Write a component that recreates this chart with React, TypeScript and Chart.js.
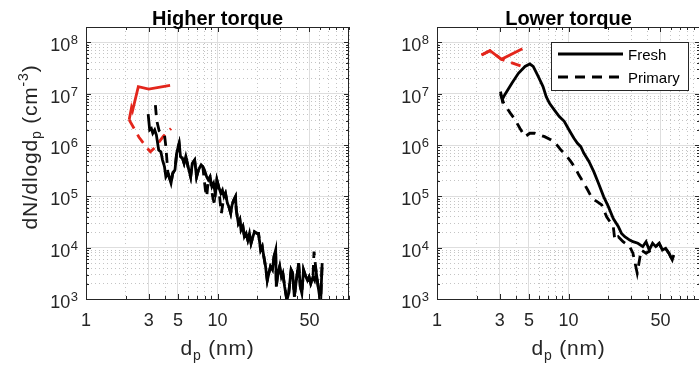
import React, { useEffect, useRef } from "react";
import { Chart, registerables } from "chart.js";

Chart.register(...registerables);

const FONT = '"Liberation Sans", Arial, Helvetica, sans-serif';
const AXIS_COLOR = "#262626";
const RED = "#e3261c";

// ---------- axes ----------
const X_MIN = 1;
const X_MAX = 100;
const Y_MIN = 1e3;
const Y_MAX = 2e8;
const xTickLabels = [1, 3, 5, 10, 50];
const xGridValues = [1, 2, 3, 4, 5, 6, 7, 8, 9, 10, 20, 30, 40, 50, 60, 70, 80, 90, 100];
const yExponents = [3, 4, 5, 6, 7, 8];
const yDecades = [1e3, 1e4, 1e5, 1e6, 1e7, 1e8];
const yMinorMultipliers = [2, 3, 4, 5, 6, 7, 8, 9];

// ---------- Higher torque ----------
const hiFreshD = [2.97, 3.05, 3.14, 3.22, 3.33, 3.43, 3.57, 3.71, 3.82, 3.95, 4.05, 4.19, 4.28, 4.43, 4.56, 4.75, 4.89, 5.03, 5.11, 5.23, 5.42, 5.57, 5.74, 5.97, 6.25, 6.43, 6.70, 6.93, 7.17, 7.51, 7.73, 7.95, 8.28, 8.51, 8.77, 9.07, 9.33, 9.61, 9.89, 10.2, 10.6, 10.9, 11.2, 11.5, 11.9, 12.2, 12.6, 12.9, 13.3, 13.7, 13.9, 14.4, 14.8, 15.1, 15.6, 16.0, 16.5, 17.0, 17.5, 18.0, 18.6, 19.1, 19.9, 20.5, 21.3, 21.9, 22.5, 23.2, 23.9, 24.6, 25.3, 26.2, 26.9, 27.7, 28.0, 28.8, 29.7, 30.6, 31.4, 32.4, 33.7, 34.8, 36.3, 37.3, 38.4, 39.5, 41.4, 42.6, 43.8, 45.1, 47.0, 48.3, 49.7, 51.2, 53.2, 54.8, 56.4, 58.3, 60.8, 62.5];
const hiFreshN = [4.0e6, 1.97e6, 2.1e6, 1.7e6, 1.97e6, 1.57e6, 8.0e5, 7.4e5, 5.1e5, 3.8e5, 2.4e5, 2.8e5, 2.4e5, 1.8e5, 2.8e5, 3.3e5, 6.9e5, 9.3e5, 1.08e6, 6.0e5, 5.5e5, 4.4e5, 6.0e5, 3.8e5, 2.4e5, 4.4e5, 5.1e5, 2.4e5, 3.3e5, 4.1e5, 3.8e5, 3.3e5, 2.4e5, 2.1e5, 2.4e5, 1.55e5, 1.8e5, 1.15e5, 2.1e5, 1.55e5, 1.15e5, 1.33e5, 9.9e4, 1.15e5, 7.3e4, 6.3e4, 4.7e4, 6.8e4, 8.5e4, 9.9e4, 5.4e4, 3.0e4, 3.5e4, 2.2e4, 2.6e4, 1.64e4, 1.9e4, 1.41e4, 1.9e4, 1.22e4, 1.64e4, 2.05e4, 1.9e4, 1.9e4, 9.0e3, 1.05e4, 6.7e3, 4.3e3, 2.3e3, 3.2e3, 4.3e3, 3.7e3, 6.7e3, 9.0e3, 1.74e3, 3.2e3, 4.3e3, 2.7e3, 3.2e3, 1.74e3, 9.5e2, 1.29e3, 3.7e3, 3.2e3, 1.11e3, 2.0e3, 5.0e3, 1.74e3, 1.29e3, 3.7e3, 2.7e3, 2.3e3, 2.7e3, 2.0e3, 2.7e3, 2.3e3, 3.2e3, 1.74e3, 8.2e2, 5.0e3];

const hiPrimaryD = [3.37, 3.45, 3.6, 3.75, 3.95, 4.05, 4.19, 4.28, 4.43, 4.56, 4.75, 4.89, 5.03, 5.11, 5.23, 5.42, 5.57, 5.74, 5.97, 6.25, 6.43, 6.70, 6.93, 7.17, 7.51, 7.73, 8.09, 8.28, 8.51, 8.77, 9.18, 9.45, 9.89, 10.2, 10.5, 10.7, 11.2, 11.5, 11.9, 12.2, 12.6, 12.9, 13.3, 13.7, 13.9, 14.4, 14.8, 15.1, 15.6, 16.0, 16.5, 17.0, 17.5, 18.0, 18.6, 19.1, 19.9, 20.5, 21.3, 21.9, 22.5, 23.2, 23.9, 24.6, 25.3, 26.2, 26.9, 27.7, 28.0, 28.8, 29.7, 30.6, 31.4, 32.4, 33.7, 34.8, 36.3, 37.3, 38.4, 39.5, 41.4, 42.6, 43.8, 45.1, 47.0, 48.3, 49.7, 51.2, 53.2, 54.2, 56.4, 58.3, 60.8, 62.5];
const hiPrimaryN = [6.0e6, 3.0e6, 1.9e6, 1.7e6, 1.6e6, 9.3e5, 3.0e5, 2.5e5, 1.8e5, 2.8e5, 3.3e5, 6.9e5, 9.3e5, 1.08e6, 6.0e5, 5.5e5, 4.4e5, 6.0e5, 3.8e5, 2.4e5, 4.4e5, 5.1e5, 2.4e5, 3.3e5, 4.1e5, 3.8e5, 1.33e5, 9.9e4, 2.1e5, 2.4e5, 9.9e4, 7.3e4, 2.1e5, 1.55e5, 7.3e4, 4.7e4, 9.9e4, 1.15e5, 7.3e4, 6.3e4, 4.7e4, 6.8e4, 8.5e4, 9.9e4, 5.4e4, 3.0e4, 3.5e4, 2.2e4, 2.6e4, 1.64e4, 1.9e4, 1.41e4, 1.9e4, 1.22e4, 1.64e4, 2.05e4, 1.9e4, 1.9e4, 9.0e3, 1.05e4, 6.7e3, 4.3e3, 2.3e3, 3.2e3, 4.3e3, 3.7e3, 6.7e3, 9.0e3, 1.74e3, 3.2e3, 4.3e3, 2.7e3, 3.2e3, 1.74e3, 9.5e2, 1.29e3, 3.7e3, 3.2e3, 1.11e3, 2.0e3, 5.0e3, 1.74e3, 1.29e3, 3.7e3, 2.7e3, 2.3e3, 2.7e3, 2.0e3, 2.7e3, 8.4e3, 3.2e3, 1.74e3, 8.2e2, 5.0e3];

const hiFreshSmallD = [2.13, 2.22, 2.26, 2.50, 3.0, 4.36];
const hiFreshSmallN = [3.1e6, 5.4e6, 4.7e6, 1.38e7, 1.23e7, 1.45e7];
const hiPrimarySmallD = [2.13, 2.53, 2.92, 3.09, 3.33, 3.89, 4.43];
const hiPrimarySmallN = [3.1e6, 1.42e6, 8.7e5, 7.4e5, 8.9e5, 1.5e6, 2.1e6];

// ---------- Lower torque ----------
const loFreshD = [3.04, 3.13, 3.27, 3.71, 4.16, 4.67, 5.08, 5.39, 5.87, 6.40, 6.77, 7.17, 7.82, 8.51, 9.28, 10.1, 11.0, 11.7, 12.4, 13.1, 14.3, 15.6, 16.9, 18.5, 20.1, 21.9, 23.9, 25.3, 26.8, 29.2, 30.9, 33.7, 36.7, 38.9, 41.1, 43.6, 46.1, 48.9, 51.8, 54.8, 58.0, 61.5, 63.2];
const loFreshN = [1.10e7, 7.6e6, 9.5e6, 1.6e7, 2.5e7, 3.4e7, 3.8e7, 3.4e7, 2.2e7, 1.38e7, 8.8e6, 6.5e6, 4.8e6, 3.6e6, 2.9e6, 1.97e6, 1.36e6, 1.08e6, 9.3e5, 6.9e5, 4.8e5, 3.0e5, 1.8e5, 9.9e4, 6.3e4, 3.7e4, 2.6e4, 1.9e4, 1.64e4, 1.41e4, 1.31e4, 1.22e4, 1.05e4, 1.31e4, 9.0e3, 1.22e4, 1.05e4, 1.22e4, 9.0e3, 9.7e3, 7.8e3, 5.8e3, 7.2e3];

const loPrimaryD = [3.04, 3.22, 3.61, 3.93, 4.28, 4.67, 5.08, 5.54, 6.04, 6.58, 7.38, 8.04, 8.77, 9.55, 10.4, 11.3, 12.0, 13.1, 14.0, 15.1, 16.5, 17.9, 19.5, 20.7, 21.9, 22.5, 23.9, 26.0, 29.2, 30.9, 33.3, 35.7, 38.9, 42.4, 44.9, 46.1, 48.9, 51.8, 54.8, 58.0, 61.5, 63.2];
const loPrimaryN = [9.9e6, 6.5e6, 4.2e6, 3.1e6, 2.1e6, 1.46e6, 1.7e6, 1.7e6, 1.57e6, 1.46e6, 1.26e6, 1.05e6, 8.0e5, 6.4e5, 4.8e5, 3.5e5, 2.6e5, 1.8e5, 1.33e5, 9.2e4, 7.9e4, 6.8e4, 4.0e4, 3.2e4, 2.6e4, 1.41e4, 1.64e4, 1.31e4, 1.05e4, 7.8e3, 3.2e3, 9.0e3, 7.8e3, 9.0e3, 1.05e4, 1.05e4, 1.22e4, 9.0e3, 9.7e3, 7.8e3, 5.8e3, 7.2e3];

const loFreshSmallD = [2.18, 2.53, 3.09, 4.46];
const loFreshSmallN = [5.7e7, 6.9e7, 4.7e7, 7.5e7];
const loPrimarySmallD = [2.18, 2.53, 3.09, 4.46];
const loPrimarySmallN = [5.7e7, 6.9e7, 4.7e7, 3.4e7];

// ---------- helpers ----------
const yGridValues: number[] = [];
yDecades.forEach((dec) => {
  yGridValues.push(dec);
  yMinorMultipliers.forEach((m) => {
    const v = dec * m;
    if (v < Y_MAX) yGridValues.push(v);
  });
});

const isMajorX = (v: number) => xTickLabels.includes(v);
const isMajorY = (v: number) => yDecades.some((d) => Math.abs(d - v) / d < 1e-9);

const pts = (d: number[], n: number[]) => d.map((x, i) => ({ x, y: n[i] }));

type Part = { t: string; size: number; dy?: number; bold?: boolean };
const fontOf = (p: Part) => `${p.bold ? "bold " : ""}${p.size}px ${FONT}`;

function drawRich(
  ctx: CanvasRenderingContext2D,
  parts: Part[],
  x: number,
  y: number,
  align: "left" | "center" | "right",
  spacing = 0
) {
  const anyCtx = ctx as any;
  const prevSpacing = anyCtx.letterSpacing;
  anyCtx.letterSpacing = `${spacing}px`;
  let w = 0;
  for (const p of parts) {
    ctx.font = fontOf(p);
    w += ctx.measureText(p.t).width;
  }
  let cx = align === "center" ? x - w / 2 : align === "right" ? x - w : x;
  ctx.textAlign = "left";
  ctx.textBaseline = "alphabetic";
  for (const p of parts) {
    ctx.font = fontOf(p);
    ctx.fillText(p.t, cx, y + (p.dy || 0));
    cx += ctx.measureText(p.t).width;
  }
  anyCtx.letterSpacing = prevSpacing || "0px";
}

type PanelCfg = {
  title: string;
  showYLabel: boolean;
  showLegend: boolean;
  datasets: any[];
};

function decorPlugin(cfg: PanelCfg) {
  return {
    id: "panelDecor",
    afterDraw(chart: any) {
      const { ctx, chartArea: a } = chart;
      const xs = chart.scales.x;
      const ys = chart.scales.y;
      ctx.save();

      // top / right box lines
      ctx.strokeStyle = AXIS_COLOR;
      ctx.lineWidth = 1;
      ctx.setLineDash([]);
      ctx.beginPath();
      ctx.moveTo(a.left, Math.round(a.top) + 0.5);
      ctx.lineTo(a.right, Math.round(a.top) + 0.5);
      ctx.moveTo(Math.round(a.right) - 0.5, a.top);
      ctx.lineTo(Math.round(a.right) - 0.5, a.bottom);
      // inward ticks
      xGridValues.forEach((v) => {
        const px = Math.round(xs.getPixelForValue(v)) + 0.5;
        const len = isMajorX(v) ? 5 : 3;
        ctx.moveTo(px, a.bottom);
        ctx.lineTo(px, a.bottom - len);
        ctx.moveTo(px, a.top);
        ctx.lineTo(px, a.top + len);
      });
      yGridValues.forEach((v) => {
        const py = Math.round(ys.getPixelForValue(v)) + 0.5;
        const len = isMajorY(v) ? 5 : 3;
        ctx.moveTo(a.left, py);
        ctx.lineTo(a.left + len, py);
        ctx.moveTo(a.right, py);
        ctx.lineTo(a.right - len, py);
      });
      ctx.stroke();

      // y tick labels 10^n
      ctx.fillStyle = AXIS_COLOR;
      yExponents.forEach((e) => {
        const py = ys.getPixelForValue(Math.pow(10, e));
        ctx.font = `13px ${FONT}`;
        const ew = ctx.measureText(String(e)).width;
        const rightEdge = a.left - 8;
        ctx.textAlign = "left";
        ctx.textBaseline = "alphabetic";
        ctx.fillText(String(e), rightEdge - ew, py + 2);
        ctx.font = `18px ${FONT}`;
        ctx.textAlign = "right";
        ctx.fillText("10", rightEdge - ew - 0.5, py + 9);
      });

      // title
      ctx.fillStyle = "#000";
      drawRich(ctx, [{ t: cfg.title, size: 20, bold: true }], (a.left + a.right) / 2, 25, "center");

      // x axis label
      ctx.fillStyle = AXIS_COLOR;
      drawRich(
        ctx,
        [
          { t: "d", size: 21 },
          { t: "p", size: 14, dy: 5 },
          { t: " (nm)", size: 21 },
        ],
        (a.left + a.right) / 2,
        355,
        "center",
        0.8
      );

      // y axis label
      if (cfg.showYLabel) {
        ctx.save();
        ctx.translate(37, 147);
        ctx.rotate(-Math.PI / 2);
        drawRich(
          ctx,
          [
            { t: "dN/dlogd", size: 21 },
            { t: "p", size: 14, dy: 4 },
            { t: " (cm", size: 21 },
            { t: "-3", size: 14, dy: -9 },
            { t: ")", size: 21 },
          ],
          0,
          0,
          "center",
          0.8
        );
        ctx.restore();
      }

      // legend
      if (cfg.showLegend) {
        const items = chart.data.datasets.filter((d: any) => d.inLegend);
        const bx = a.right - 149;
        const by = a.top + 15;
        const bw = 137;
        const bh = 48;
        ctx.fillStyle = "#fff";
        ctx.fillRect(bx, by, bw, bh);
        ctx.strokeStyle = AXIS_COLOR;
        ctx.lineWidth = 1;
        ctx.setLineDash([]);
        ctx.strokeRect(Math.round(bx) + 0.5, Math.round(by) + 0.5, bw, bh);
        items.forEach((d: any, i: number) => {
          const ly = by + 12 + i * 23;
          ctx.strokeStyle = d.borderColor;
          ctx.lineWidth = d.borderWidth;
          ctx.setLineDash(d.borderDash || []);
          ctx.beginPath();
          ctx.moveTo(bx + 7, ly);
          ctx.lineTo(bx + 72, ly);
          ctx.stroke();
          ctx.setLineDash([]);
          ctx.fillStyle = "#000";
          ctx.font = `15px ${FONT}`;
          ctx.textAlign = "left";
          ctx.textBaseline = "alphabetic";
          ctx.fillText(d.label, bx + 77, ly + 5.5);
        });
      }
      ctx.restore();
    },
  };
}

function buildConfig(cfg: PanelCfg): any {
  return {
    type: "line",
    data: { datasets: cfg.datasets },
    options: {
      responsive: false,
      animation: false,
      devicePixelRatio: 1,
      events: [],
      layout: { padding: { top: 27, right: 6, left: 0, bottom: 0 } },
      elements: { point: { radius: 0 }, line: { tension: 0 } },
      plugins: { legend: { display: false }, tooltip: { enabled: false }, title: { display: false } },
      scales: {
        x: {
          type: "logarithmic",
          position: "bottom",
          min: X_MIN,
          max: X_MAX,
          afterBuildTicks: (s: any) => {
            s.ticks = xGridValues.map((v) => ({ value: v }));
          },
          afterFit: (s: any) => {
            s.height = 68;
          },
          ticks: {
            autoSkip: false,
            maxRotation: 0,
            minRotation: 0,
            padding: 11,
            color: AXIS_COLOR,
            font: { family: FONT, size: 18 },
            callback: (v: any) => (xTickLabels.includes(Number(v)) ? String(v) : ""),
          },
          grid: {
            drawTicks: false,
            lineWidth: 1,
            color: (c: any) => (c.tick && isMajorX(c.tick.value) ? "#dedede" : "#c4c4c4"),
          },
          border: {
            display: true,
            color: AXIS_COLOR,
            width: 1,
            dash: (c: any) => (c.tick && !isMajorX(c.tick.value) ? [1, 3] : []),
          },
        },
        y: {
          type: "logarithmic",
          position: "left",
          min: Y_MIN,
          max: Y_MAX,
          afterBuildTicks: (s: any) => {
            s.ticks = yGridValues.map((v) => ({ value: v }));
          },
          afterFit: (s: any) => {
            s.width = 86;
          },
          ticks: { display: false },
          grid: {
            drawTicks: false,
            lineWidth: 1,
            color: (c: any) => (c.tick && isMajorY(c.tick.value) ? "#dedede" : "#c4c4c4"),
          },
          border: {
            display: true,
            color: AXIS_COLOR,
            width: 1,
            dash: (c: any) => (c.tick && !isMajorY(c.tick.value) ? [1, 3] : []),
          },
        },
      },
    },
    plugins: [decorPlugin(cfg)],
  };
}

const LINE_W = 2.8;
const DASH = [10, 7];

function series(label: string, d: number[], n: number[], color: string, dashed: boolean, inLegend: boolean) {
  return {
    label,
    data: pts(d, n),
    borderColor: color,
    backgroundColor: color,
    borderWidth: LINE_W,
    borderDash: dashed ? DASH : [],
    pointRadius: 0,
    fill: false,
    inLegend,
  };
}

const higherCfg: PanelCfg = {
  title: "Higher torque",
  showYLabel: true,
  showLegend: false,
  datasets: [
    series("Fresh", hiFreshD, hiFreshN, "#000", false, true),
    series("Primary", hiPrimaryD, hiPrimaryN, "#000", true, true),
    series("Fresh (small sizes)", hiFreshSmallD, hiFreshSmallN, RED, false, false),
    series("Primary (small sizes)", hiPrimarySmallD, hiPrimarySmallN, RED, true, false),
  ],
};

const lowerCfg: PanelCfg = {
  title: "Lower torque",
  showYLabel: false,
  showLegend: true,
  datasets: [
    series("Fresh", loFreshD, loFreshN, "#000", false, true),
    series("Primary", loPrimaryD, loPrimaryN, "#000", true, true),
    series("Fresh (small sizes)", loFreshSmallD, loFreshSmallN, RED, false, false),
    series("Primary (small sizes)", loPrimarySmallD, loPrimarySmallN, RED, true, false),
  ],
};

function Panel({ cfg, left }: { cfg: PanelCfg; left: number }) {
  const ref = useRef<HTMLCanvasElement>(null);
  useEffect(() => {
    if (!ref.current) return;
    const chart = new Chart(ref.current, buildConfig(cfg));
    return () => chart.destroy();
  }, [cfg]);
  return (
    <canvas
      ref={ref}
      width={360}
      height={367}
      style={{ position: "absolute", left, top: 0, width: 360, height: 367 }}
    />
  );
}

export default function App() {
  return (
    <div
      style={{
        position: "fixed",
        left: 0,
        top: 0,
        width: 699,
        height: 367,
        overflow: "hidden",
        background: "#fff",
      }}
    >
      <Panel cfg={higherCfg} left={0} />
      <Panel cfg={lowerCfg} left={351} />
    </div>
  );
}
